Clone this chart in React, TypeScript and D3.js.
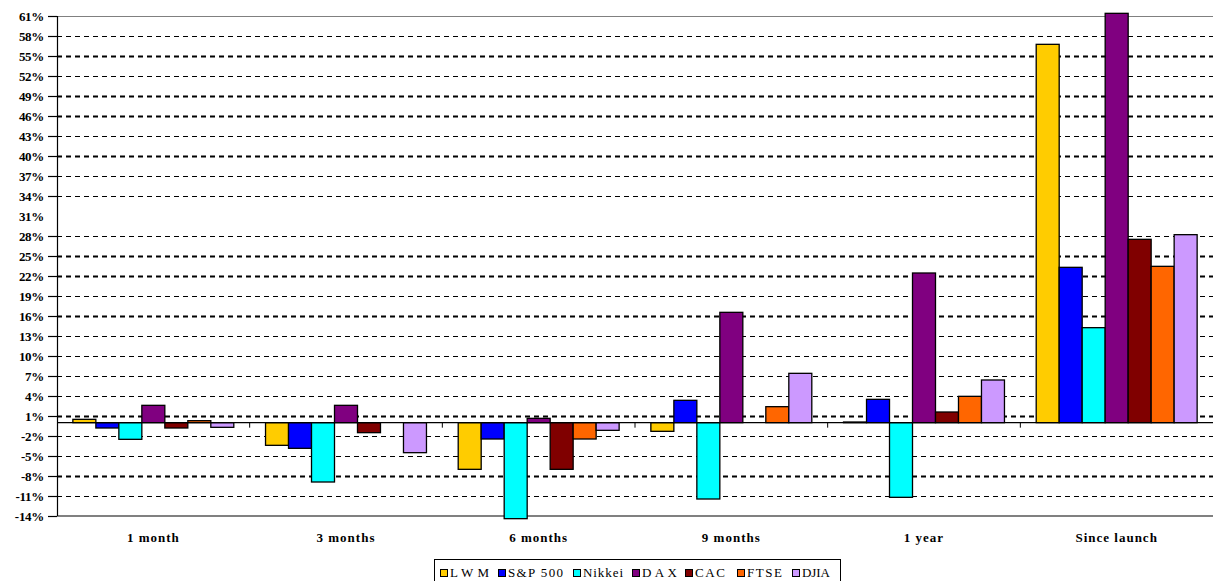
import React, { useEffect, useRef } from 'react';
import * as d3 from 'd3';

const categories = ['1 month', '3 months', '6 months', '9 months', '1 year', 'Since launch'];
const seriesNames = ['LWM', 'S&P 500', 'Nikkei', 'DAX', 'CAC', 'FTSE', 'DJIA'];
const seriesColors = ['#FFCC00', '#0000FF', '#00FFFF', '#800080', '#800000', '#FF6600', '#CC99FF'];

// returns in %
const lwm = [0.5, -3.4, -7.0, -1.3, 0.1, 56.75];
const sp500 = [-0.8, -3.85, -2.45, 3.35, 3.5, 23.3];
const nikkei = [-2.5, -8.9, -14.4, -11.45, -11.2, 14.25];
const dax = [2.6, 2.6, 0.65, 16.55, 22.45, 61.4];
const cac = [-0.8, -1.5, -7.0, 0, 1.6, 27.5];
const ftse = [0.3, 0, -2.45, 2.4, 3.95, 23.45];
const djia = [-0.7, -4.5, -1.15, 7.4, 6.4, 28.2];

const yTicks = [61, 58, 55, 52, 49, 46, 43, 40, 37, 34, 31, 28, 25, 22, 19, 16, 13, 10, 7, 4, 1, -2, -5, -8, -11, -14];
// the original has no gridline at 31%, and some lines render heavier
const missingGrid = [31];
const heavyGrid = [55, 49, 46, 40, 25, 22, 16, 1, -8];

const App = () => {
  const svgRef = useRef<SVGSVGElement>(null);

  useEffect(() => {
    const W = 1213;
    const H = 581;
    const margin = { top: 16, right: 0, bottom: 65, left: 57 };
    const width = W - margin.left - margin.right;
    const height = H - margin.top - margin.bottom;
    const font = '"Liberation Serif", "Times New Roman", serif';

    const values = [lwm, sp500, nikkei, dax, cac, ftse, djia];

    const svg = d3.select(svgRef.current)
      .attr('width', W)
      .attr('height', H)
      .style('background', '#fff');
    svg.selectAll('*').remove();

    const g = svg.append('g')
      .attr('transform', `translate(${margin.left},${margin.top})`);

    const x0 = d3.scaleBand()
      .domain(categories)
      .range([0, width])
      .padding(0);

    const x1 = d3.scaleBand()
      .domain(seriesNames)
      .range([0, x0.bandwidth()])
      .paddingInner(0)
      .paddingOuter(0.69);

    const y = d3.scaleLinear()
      .domain([-14, 61])
      .range([height, 0]);

    // gridlines
    g.append('g')
      .selectAll('line')
      .data(yTicks.filter(t => t !== 61 && t !== -14 && !missingGrid.includes(t)))
      .enter().append('line')
      .attr('x1', 0)
      .attr('x2', width)
      .attr('y1', d => Math.round(y(d)) + 0.5)
      .attr('y2', d => Math.round(y(d)) + 0.5)
      .attr('stroke', '#000')
      .attr('stroke-width', d => heavyGrid.includes(d) ? 1.8 : 1)
      .attr('stroke-dasharray', '5,4');

    // plot border top / bottom
    g.append('line')
      .attr('x1', 0).attr('x2', width)
      .attr('y1', y(61) + 0.5).attr('y2', y(61) + 0.5)
      .attr('stroke', '#808080')
      .attr('stroke-width', 1);
    g.append('line')
      .attr('x1', 0).attr('x2', width)
      .attr('y1', y(-14)).attr('y2', y(-14))
      .attr('stroke', '#808080')
      .attr('stroke-width', 2);

    // bars
    const groups = g.append('g')
      .selectAll('g')
      .data(categories)
      .enter().append('g')
      .attr('transform', d => `translate(${x0(d)},0)`);

    groups.selectAll('rect')
      .data((c, ci) => seriesNames.map((s, si) => ({ s, si, v: values[si][ci] })))
      .enter().append('rect')
      .attr('x', d => x1(d.s)!)
      .attr('width', x1.bandwidth())
      .attr('y', d => y(Math.max(0, d.v)))
      .attr('height', d => Math.abs(y(d.v) - y(0)))
      .attr('fill', d => seriesColors[d.si])
      .attr('stroke', '#000')
      .attr('stroke-width', 1.3);

    // zero line + category ticks
    g.append('line')
      .attr('x1', 0).attr('x2', width)
      .attr('y1', y(0)).attr('y2', y(0))
      .attr('stroke', '#000')
      .attr('stroke-width', 1.2);

    g.append('g')
      .selectAll('line')
      .data(categories.slice(1))
      .enter().append('line')
      .attr('x1', d => x0(d)!)
      .attr('x2', d => x0(d)!)
      .attr('y1', y(0))
      .attr('y2', y(0) + 5)
      .attr('stroke', '#000')
      .attr('stroke-width', 1);

    // y axis
    const yAxis = d3.axisLeft(y)
      .tickValues(yTicks)
      .tickSize(9)
      .tickPadding(4)
      .tickFormat(d => `${d}%`);

    const ya = g.append('g').call(yAxis);
    ya.select('.domain')
      .attr('d', `M0.5,0V${height}`)
      .attr('stroke', '#000')
      .attr('stroke-width', 1.2);
    ya.selectAll('.tick line')
      .attr('stroke', '#000')
      .attr('stroke-width', 1.2)
      .attr('display', d => missingGrid.includes(d as number) ? 'none' : null);
    ya.selectAll('.tick text')
      .attr('font-family', font)
      .attr('font-weight', 'bold')
      .attr('font-size', 13)
      .attr('letter-spacing', -0.3)
      .attr('fill', '#000');

    // category labels
    g.append('g')
      .selectAll('text')
      .data(categories)
      .enter().append('text')
      .attr('x', d => x0(d)! + x0.bandwidth() / 2)
      .attr('y', height + 26)
      .attr('text-anchor', 'middle')
      .attr('font-family', font)
      .attr('font-weight', 'bold')
      .attr('font-size', 13)
      .attr('letter-spacing', 1)
      .text(d => d);

    // legend
    const legend = svg.append('g').attr('transform', 'translate(434,559)');
    legend.append('rect')
      .attr('x', 0.5).attr('y', 0.5)
      .attr('width', 406).attr('height', 24)
      .attr('fill', '#fff')
      .attr('stroke', '#000')
      .attr('stroke-width', 1);

    const legendX = [6, 64, 139, 198, 251, 303, 358];
    const legendW = [39, 55, 40, 35, 30, 35, 28];
    const items = legend.selectAll('g.item')
      .data(seriesNames)
      .enter().append('g')
      .attr('class', 'item')
      .attr('transform', (d, i) => `translate(${legendX[i]},0)`);
    items.append('rect')
      .attr('x', 0.5).attr('y', 10.5)
      .attr('width', 7).attr('height', 7)
      .attr('fill', (d, i) => seriesColors[i])
      .attr('stroke', '#000')
      .attr('stroke-width', 1);
    items.append('text')
      .attr('x', 10)
      .attr('y', 18)
      .attr('font-family', font)
      .attr('font-size', 13)
      .attr('textLength', (d, i) => legendW[i])
      .attr('lengthAdjust', 'spacing')
      .text(d => d);
  }, []);

  return (
    <svg ref={svgRef} style={{ position: 'absolute', left: 0, top: 0, display: 'block' }}></svg>
  );
};

export default App;
